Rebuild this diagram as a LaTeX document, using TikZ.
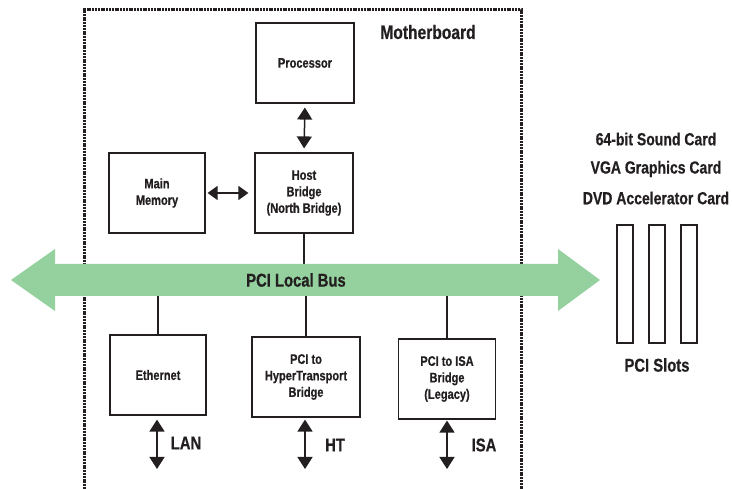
\documentclass[tikz,border=0pt]{standalone}
\usepackage{fontspec}
\setmainfont{Liberation Sans}[FakeStretch=0.8,BoldFeatures={FakeBold=0.6}]
\usetikzlibrary{arrows.meta}
\definecolor{busgreen}{RGB}{148,209,158}
\definecolor{ink}{RGB}{35,31,32}
\begin{document}
\begin{tikzpicture}[x=1pt,y=-1pt,
  every node/.style={text=ink,font=\bfseries},
  box/.style={draw=ink,line width=1.2pt,align=center,inner sep=0pt,minimum height=80pt,
    font=\bfseries\fontsize{13.8}{16.5}\selectfont},
  slotbox/.style={draw=ink,line width=1.2pt,minimum width=16pt,minimum height=118pt,inner sep=0pt},
  biglabel/.style={font=\bfseries\fontsize{18.5}{20}\selectfont},
  cardlabel/.style={font=\bfseries\fontsize{17.5}{20}\selectfont},
  link/.style={draw=ink,line width=1.2pt},
  dblarrow/.style={draw=ink,line width=1.5pt,{Triangle[width=15pt,length=12pt]}-{Triangle[width=15pt,length=12pt]}},
  smallarrow/.style={draw=ink,line width=1.5pt,{Triangle[width=14pt,length=10pt]}-{Triangle[width=14pt,length=10pt]}},
  board/.style={draw=ink,line width=3pt,dash pattern=on 2pt off 0.8pt}
]
\useasboundingbox (0,0) rectangle (732,489);

% motherboard border
\draw[board] (84,489) -- (84,10) -- (521,10) -- (521,489);
\node[biglabel,font=\bfseries\fontsize{19.5}{21}\selectfont] (mb) at (428,32) {Motherboard};

% boxes
\node[box,minimum width=98pt] (proc) at (305,63) {Processor};
\node[box,minimum width=98pt] (host) at (304,193) {Host\\Bridge\\(North Bridge)};
\node[box,minimum width=96pt] (mem) at (157,193) {Main\\Memory};
\node[box,minimum width=96pt] (eth) at (158,375) {Ethernet};
\node[box,minimum width=108pt] (ht) at (306,377) {PCI to\\HyperTransport\\Bridge};
\node[box,minimum width=97pt] (isa) at (447,379) {PCI to ISA\\Bridge\\(Legacy)};

% bus edges
\coordinate (bustop) at (305,264);
\coordinate (busbot) at (305,296);

% links to bus
\draw[link] (host.south) -- (host.south |- bustop);
\draw[link] (eth.north) -- (eth.north |- busbot);
\draw[link] (ht.north) -- (ht.north |- busbot);
\draw[link] (isa.north) -- (isa.north |- busbot);

% PCI bus arrow
\fill[busgreen] (11,280) -- (55,249) -- (55,264) -- (558,264) -- (558,249) -- (600,280)
  -- (558,311) -- (558,296) -- (55,296) -- (55,311) -- cycle;
\node[biglabel] (bus) at (296,280) {PCI Local Bus};

% arrows
\draw[dblarrow,shorten <=4pt,shorten >=4pt] (proc.south) -- (host.north);
\draw[smallarrow,shorten <=2pt,shorten >=6pt] (mem.east) -- (host.west);

\coordinate (lanend) at (157,469);
\coordinate (htend) at (305,469);
\coordinate (isaend) at (447,469);
\draw[dblarrow,shorten <=4pt] (eth.south -| lanend) -- (lanend);
\draw[dblarrow,shorten <=2pt] (ht.south -| htend) -- (htend);
\draw[dblarrow,shorten <=1pt] (isa.south -| isaend) -- (isaend);
\node[biglabel] (lan) at (186,443) {LAN};
\node[biglabel] (htl) at (335,445) {HT};
\node[biglabel] (isal) at (484,445) {ISA};

% PCI slots
\node[cardlabel] (c1) at (656,139) {64-bit Sound Card};
\node[cardlabel] (c2) at (656,169) {VGA Graphics Card};
\node[cardlabel] (c3) at (656,198) {DVD Accelerator Card};
\node[slotbox] (s1) at (625,284) {};
\node[slotbox] (s2) at (657,284) {};
\node[slotbox] (s3) at (689,284) {};
\node[biglabel] (slots) at (657,365) {PCI Slots};
\end{tikzpicture}
\end{document}
